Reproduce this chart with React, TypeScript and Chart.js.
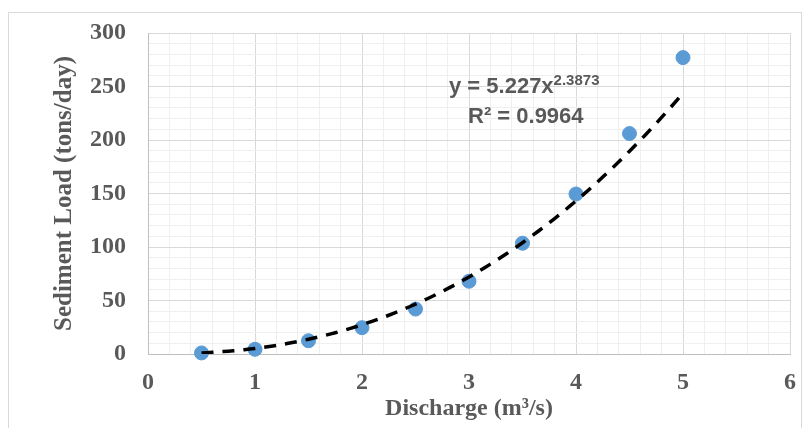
import React, { useEffect, useRef } from 'react';
import { Chart, registerables } from 'chart.js';

Chart.register(...registerables);

// ---- data ----
const dischargeValues = [0.5, 1, 1.5, 2, 2.5, 3, 3.5, 4, 4.5, 5];
const sedimentLoadValues = [1, 4.4, 12.4, 24.6, 42, 68, 103.5, 149.5, 206, 277];
const xTickLabels = ['0', '1', '2', '3', '4', '5', '6'];
const yTickLabels = ['0', '50', '100', '150', '200', '250', '300'];
const trendCoefficient = 5.227;
const trendExponent = 2.3873;
const rSquared = 0.9964;
const trendStart = 0.5;
const trendEnd = 5;

const GRAY_TEXT = '#595959';

function buildTrend() {
  const pts: { x: number; y: number }[] = [];
  const n = 90;
  for (let i = 0; i <= n; i++) {
    const x = trendStart + ((trendEnd - trendStart) * i) / n;
    pts.push({ x, y: trendCoefficient * Math.pow(x, trendExponent) });
  }
  return pts;
}

const isWhole = (v: number) => Math.abs(v - Math.round(v)) < 1e-9;

const equationPlugin = {
  id: 'equationLabel',
  afterDatasetsDraw(chart: any) {
    const { ctx, chartArea } = chart;
    ctx.save();
    ctx.fillStyle = GRAY_TEXT;
    ctx.textBaseline = 'alphabetic';
    ctx.textAlign = 'left';
    const x0 = chartArea.left + 301;
    const y1 = chartArea.top + 60;
    ctx.font = 'bold 22px "Liberation Sans", Arial, sans-serif';
    const main = `y = ${trendCoefficient}x`;
    ctx.fillText(main, x0, y1);
    const w = ctx.measureText(main).width;
    ctx.font = 'bold 15px "Liberation Sans", Arial, sans-serif';
    ctx.fillText(String(trendExponent), x0 + w, y1 - 8);
    ctx.font = 'bold 22px "Liberation Sans", Arial, sans-serif';
    ctx.fillText(`R\u00B2 = ${rSquared}`, chartArea.left + 320, chartArea.top + 90);
    ctx.restore();
  },
};

const frameBorderPlugin = {
  id: 'frameBorder',
  beforeDraw(chart: any) {
    const { ctx, width, height } = chart;
    ctx.save();
    ctx.fillStyle = '#ffffff';
    ctx.fillRect(0, 0, width, height);
    ctx.strokeStyle = '#d9d9d9';
    ctx.lineWidth = 1;
    ctx.strokeRect(8.5, 12.5, width - 10, height + 20);
    ctx.restore();
  },
};

export default function App() {
  const canvasRef = useRef<HTMLCanvasElement | null>(null);

  useEffect(() => {
    if (!canvasRef.current) return;
    const scatterData = dischargeValues.map((x, i) => ({ x, y: sedimentLoadValues[i] }));
    const chart = new Chart(canvasRef.current, {
      type: 'scatter',
      data: {
        datasets: [
          {
            type: 'line',
            label: 'Power trendline',
            data: buildTrend(),
            borderColor: '#000000',
            borderWidth: 3.5,
            borderDash: [12, 9],
            pointRadius: 0,
            fill: false,
            tension: 0,
          } as any,
          {
            label: 'Sediment Load',
            data: scatterData,
            backgroundColor: '#5B9BD5',
            borderColor: '#5B9BD5',
            pointRadius: 7,
            pointHoverRadius: 7,
            clip: false,
          } as any,
        ],
      },
      options: {
        responsive: false,
        animation: false,
        maintainAspectRatio: false,
        layout: { padding: { left: 0, top: 33, right: 13, bottom: 0 } },
        plugins: {
          legend: { display: false },
          tooltip: { enabled: false },
        },
        scales: {
          x: {
            type: 'linear',
            min: 0,
            max: 6,
            ticks: {
              stepSize: 0.2,
              autoSkip: false,
              maxRotation: 0,
              padding: 14,
              color: GRAY_TEXT,
              font: { family: '"Liberation Serif", "Times New Roman", serif', size: 24, weight: 'bold' },
              callback: (v: any) => (isWhole(v) && xTickLabels.includes(String(Math.round(v))) ? String(Math.round(v)) : ''),
            },
            grid: {
              drawTicks: false,
              color: (c: any) => (c.tick && isWhole(c.tick.value) ? '#d9d9d9' : '#efefef'),
              lineWidth: 1,
            },
            border: { color: '#bfbfbf', width: 1 },
            title: {
              display: true,
              text: 'Discharge (m\u00B3/s)',
              color: GRAY_TEXT,
              padding: { top: 0, bottom: 5 },
              font: { family: '"Liberation Serif", "Times New Roman", serif', size: 24, weight: 'bold' },
            },
            afterFit: (scale: any) => {
              scale.height = 74;
              scale.paddingLeft = 0;
              scale.paddingRight = 0;
            },
          },
          y: {
            type: 'linear',
            min: 0,
            max: 300,
            ticks: {
              stepSize: 10,
              autoSkip: false,
              padding: 22,
              color: GRAY_TEXT,
              font: { family: '"Liberation Serif", "Times New Roman", serif', size: 24, weight: 'bold' },
              callback: (v: any) => (yTickLabels.includes(String(v)) ? String(v) : ''),
            },
            grid: {
              drawTicks: false,
              color: (c: any) => (c.tick && c.tick.value % 50 === 0 ? '#d9d9d9' : '#efefef'),
              lineWidth: 1,
            },
            border: { color: '#bfbfbf', width: 1 },
            title: {
              display: true,
              text: 'Sediment Load (tons/day)',
              color: GRAY_TEXT,
              padding: { top: 50, bottom: 0 },
              font: { family: '"Liberation Serif", "Times New Roman", serif', size: 25, weight: 'bold' },
            },
            afterFit: (scale: any) => {
              scale.width = 148;
              scale.paddingTop = 0;
              scale.paddingBottom = 0;
            },
          },
        },
      },
      plugins: [frameBorderPlugin, equationPlugin],
    });
    return () => chart.destroy();
  }, []);

  return (
    <div style={{ position: 'fixed', left: 0, top: 0, width: 803, height: 428, background: '#fff' }}>
      <canvas ref={canvasRef} width={803} height={428} style={{ width: 803, height: 428, display: 'block' }} />
    </div>
  );
}
